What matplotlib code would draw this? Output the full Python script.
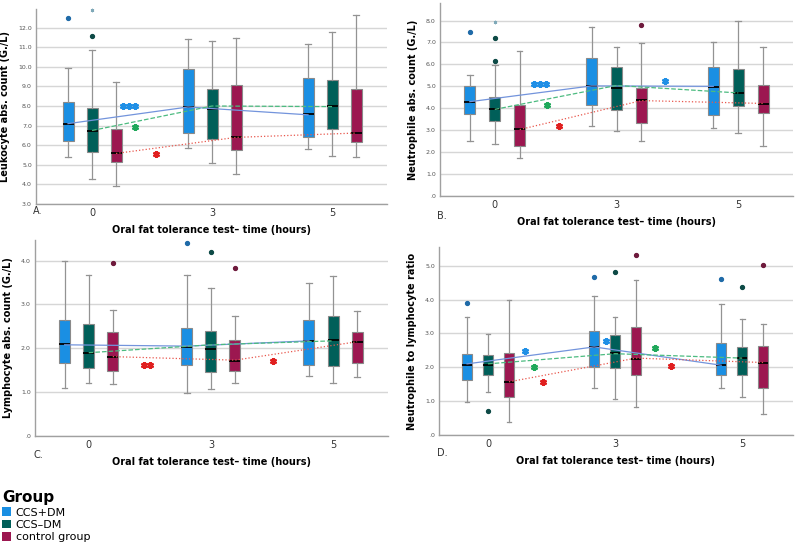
import matplotlib
matplotlib.use("Agg")
import matplotlib.pyplot as plt
from matplotlib.patches import Patch
from matplotlib.ticker import FuncFormatter, MultipleLocator

# groups and time points
groups = ["CCS+DM", "CCS\u2013DM", "control group"]
times = ["0", "3", "5"]

# box colours / outlier colours / line colours
box_colors = ["#1a8fe3", "#005f59", "#9c1750"]
flier_colors = ["#1f6aa8", "#0d4a46", "#6e1a3c"]
line_colors = ["#7394dc", "#4cbb80", "#e8574d"]
line_styles = ["-", "--", ":"]

# box stats per time point: [whislo, q1, median, q3, whishi]
leuko_ccs_dm = [[5.4, 6.2, 7.06, 8.19, 9.96], [5.85, 6.6, 7.95, 9.9, 11.4], [5.8, 6.4, 7.6, 9.45, 11.15]]
leuko_ccs_nodm = [[4.3, 5.65, 6.7, 7.9, 10.85], [5.1, 6.3, 7.85, 8.85, 11.3], [5.45, 6.85, 8.0, 9.35, 11.8]]
leuko_control = [[3.9, 5.15, 5.6, 6.85, 9.25], [4.55, 5.75, 6.4, 9.05, 11.45], [5.4, 6.15, 6.6, 8.85, 12.65]]
leuko_out = [[[12.49], [], []], [[11.55], [], []], [[], [], []]]
leuko_ext = [[[], [], []], [[12.9], [], []], [[], [], []]]
leuko_lines = [[7.1, 7.95, 7.55], [6.75, 8.0, 7.97], [5.58, 6.4, 6.62]]

neutro_ccs_dm = [[2.53, 3.75, 4.28, 5.0, 5.5], [3.2, 4.16, 5.02, 6.27, 7.71], [3.11, 3.7, 4.95, 5.89, 7.03]]
neutro_ccs_nodm = [[2.38, 3.43, 3.95, 4.52, 5.98], [2.96, 3.91, 4.93, 5.86, 6.81], [2.88, 4.1, 4.69, 5.8, 8.0]]
neutro_control = [[1.73, 2.3, 3.07, 4.16, 6.6], [2.53, 3.34, 4.37, 4.93, 6.97], [2.28, 3.78, 4.2, 5.04, 6.8]]
neutro_out = [[[7.5], [], []], [[6.16, 7.22], [], []], [[], [7.8], []]]
neutro_ext = [[[], [], []], [[7.92], [], []], [[], [], []]]
neutro_lines = [[4.3, 5.02, 5.0], [3.95, 5.04, 4.7], [3.03, 4.35, 4.22]]

lympho_ccs_dm = [[1.1, 1.66, 2.09, 2.65, 4.0], [0.97, 1.63, 2.03, 2.47, 3.67], [1.36, 1.61, 2.17, 2.65, 3.48]]
lympho_ccs_nodm = [[1.2, 1.55, 1.9, 2.55, 3.67], [1.07, 1.47, 1.99, 2.39, 3.37], [1.2, 1.6, 2.2, 2.73, 3.66]]
lympho_control = [[1.19, 1.48, 1.81, 2.37, 2.88], [1.21, 1.49, 1.72, 2.2, 2.73], [1.34, 1.67, 2.14, 2.37, 2.84]]
lympho_out = [[[], [4.4], []], [[], [4.19], []], [[3.95], [3.84], []]]
lympho_ext = [[[], [], []], [[], [], []], [[], [], []]]
lympho_lines = [[2.08, 2.05, 2.17], [1.9, 2.08, 2.17], [1.81, 1.73, 2.15]]

nlr_ccs_dm = [[0.97, 1.62, 2.08, 2.39, 3.49], [1.4, 2.02, 2.59, 3.06, 4.1], [1.38, 1.76, 2.06, 2.72, 3.88]]
nlr_ccs_nodm = [[1.27, 1.76, 2.08, 2.37, 2.98], [1.06, 1.98, 2.41, 2.94, 3.49], [1.13, 1.76, 2.27, 2.59, 3.43]]
nlr_control = [[0.39, 1.11, 1.57, 2.42, 4.0], [0.83, 1.78, 2.25, 3.19, 4.59], [0.62, 1.39, 2.14, 2.63, 3.29]]
nlr_out = [[[3.91], [4.66], [4.6]], [[0.7], [4.8], [4.38]], [[], [5.31], [5.02]]]
nlr_ext = [[[], [], []], [[], [], []], [[], [], []]]
nlr_lines = [[2.1, 2.6, 2.06], [2.1, 2.4, 2.27], [1.57, 2.27, 2.14]]

# significance marks: (x in category units, y, group index, count)
leuko_sig = [(0.31, 8.0, 0, 3), (0.36, 6.93, 1, 1), (0.53, 5.55, 2, 1)]
neutro_sig = [(0.37, 5.1, 0, 3), (0.43, 4.17, 1, 1), (0.53, 3.19, 2, 1), (1.40, 5.25, 0, 1)]
lympho_sig = [(0.48, 1.63, 2, 2), (1.51, 1.72, 2, 1)]
nlr_sig = [(0.29, 2.49, 0, 1), (0.36, 2.02, 1, 1), (0.43, 1.55, 2, 1),
           (0.93, 2.78, 0, 1), (1.31, 2.57, 1, 1), (1.44, 2.04, 2, 1)]
star_colors = ["#1f8fe6", "#1fa85a", "#e01f1f"]

W, H = 797, 542
fig = plt.figure(figsize=(W / 100, H / 100), dpi=100)


def px_axes(l, t, r, b):
    return fig.add_axes([l / W, 1 - b / H, (r - l) / W, (b - t) / H])


def fmt(v, pos):
    s = "%.1f" % v
    if s.startswith("0"):
        s = s[1:]
    return s


def panel(ax, stats, outs, exts, lines, sig, ylim, xlim, off, bw, ylabel):
    for g in range(3):
        bxp_stats = []
        for t in range(3):
            lo, q1, med, q3, hi = stats[g][t]
            bxp_stats.append(dict(whislo=lo, q1=q1, med=med, q3=q3, whishi=hi,
                                  fliers=outs[g][t]))
        pos = [t + (g - 1) * off for t in range(3)]
        ax.bxp(bxp_stats, positions=pos, widths=bw, capwidths=bw * 0.5,
               patch_artist=True, manage_ticks=False,
               boxprops=dict(facecolor=box_colors[g], edgecolor="#8a8a8a", linewidth=0.8),
               medianprops=dict(color="black", linewidth=1.3),
               whiskerprops=dict(color="#939393", linewidth=0.9),
               capprops=dict(color="#939393", linewidth=0.9),
               flierprops=dict(marker="o", markersize=2.8, markerfacecolor=flier_colors[g],
                               markeredgecolor=flier_colors[g]))
        for t in range(3):
            if exts[g][t]:
                ax.plot([pos[t]] * len(exts[g][t]), exts[g][t], linestyle="none",
                        marker=(6, 2, 0), markersize=2.5, markeredgewidth=0.6,
                        color="#7fa9b8", clip_on=False)
        ax.plot(pos, lines[g], color=line_colors[g], linestyle=line_styles[g],
                linewidth=0.9, zorder=4)
    for x, y, g, n in sig:
        xs = [x + (k - (n - 1) / 2) * 0.05 for k in range(n)]
        ax.plot(xs, [y] * n, linestyle="none", marker=(6, 2, 0), markersize=5,
                markeredgewidth=1.6, color=star_colors[g], zorder=5)
    ax.set_xlim(*xlim)
    ax.set_ylim(*ylim)
    ax.set_xticks([0, 1, 2])
    ax.set_xticklabels(times, fontsize=7, color="#333333")
    ax.yaxis.set_major_locator(MultipleLocator(1.0))
    ax.yaxis.set_major_formatter(FuncFormatter(fmt))
    ax.tick_params(axis="y", labelsize=4.5, length=0, pad=3, colors="#555555")
    ax.tick_params(axis="x", length=0, pad=3)
    ax.grid(axis="y", color="#d6d6d6", linewidth=1.0)
    ax.set_axisbelow(True)
    for s in ["top", "right"]:
        ax.spines[s].set_visible(False)
    for s in ["left", "bottom"]:
        ax.spines[s].set_color("#a0a0a0")
        ax.spines[s].set_linewidth(1.0)
    ax.set_ylabel(ylabel, fontsize=7, fontweight="bold", labelpad=6)
    ax.set_xlabel("Oral fat tolerance test\u2013 time (hours)", fontsize=7,
                  fontweight="bold", labelpad=5)


axA = px_axes(36, 9, 387, 204)
panel(axA, [leuko_ccs_dm, leuko_ccs_nodm, leuko_control], leuko_out, leuko_ext, leuko_lines,
      leuko_sig, (3, 12.95), (-0.467, 2.458), 0.2, 0.092, "Leukocyte abs. count (G./L)")

axB = px_axes(440, 3, 793, 196)
panel(axB, [neutro_ccs_dm, neutro_ccs_nodm, neutro_control], neutro_out, neutro_ext, neutro_lines,
      neutro_sig, (0, 8.8), (-0.45, 2.45), 0.205, 0.09, "Neutrophile abs. count (G./L)")

axC = px_axes(35, 240, 388, 436)
panel(axC, [lympho_ccs_dm, lympho_ccs_nodm, lympho_control], lympho_out, lympho_ext, lympho_lines,
      lympho_sig, (0, 4.47), (-0.44, 2.45), 0.197, 0.09, "Lymphocyte abs. count (G./L)")

axD = px_axes(439, 247, 793, 435)
panel(axD, [nlr_ccs_dm, nlr_ccs_nodm, nlr_control], nlr_out, nlr_ext, nlr_lines,
      nlr_sig, (0, 5.55), (-0.386, 2.4), 0.165, 0.075, "Neutrophile to lymphocyte ratio")

# panel letters
for lbl, x, y in [("A.", 33, 211), ("B.", 437, 216), ("C.", 33, 455), ("D.", 437, 453)]:
    fig.text(x / W, 1 - y / H, lbl, fontsize=7, color="#333333", va="center", ha="left")

handles = [Patch(facecolor=c, edgecolor="none") for c in box_colors]
leg = fig.legend(handles, groups, title="Group", loc="upper left",
                 bbox_to_anchor=(0.0, 1 - 488 / H), frameon=False, fontsize=8,
                 handlelength=0.8, handleheight=0.8, handletextpad=0.4,
                 labelspacing=0.2, borderaxespad=0, borderpad=0.2)
leg.get_title().set_fontweight("bold")
leg.get_title().set_fontsize(11)
leg._legend_box.align = "left"

fig.savefig("out.png", dpi=100)
